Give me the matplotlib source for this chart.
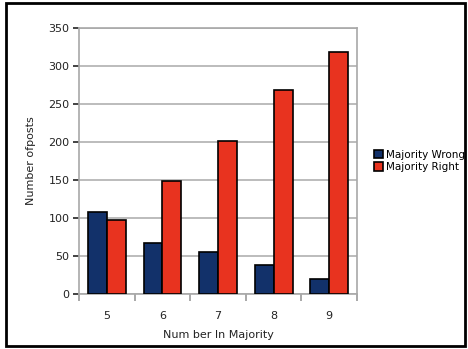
import matplotlib.pyplot as plt
import numpy as np
from matplotlib.patches import Rectangle

categories = ["5", "6", "7", "8", "9"]
majority_wrong = [108, 67, 55, 38, 19]
majority_right = [97, 149, 201, 268, 318]

fig = plt.figure(figsize=(4.68, 3.49), dpi=100)
ax = fig.add_axes([0.169, 0.158, 0.594, 0.762])

x = np.arange(len(categories))
w = 0.34
ax.bar(x - w/2, majority_wrong, w, color="#12316a", edgecolor="black",
       linewidth=1.2, label="Majority Wrong", zorder=3)
ax.bar(x + w/2, majority_right, w, color="#e8331f", edgecolor="black",
       linewidth=1.2, label="Majority Right", zorder=3)

ax.set_xlim(-0.5, len(categories) - 0.5)
ax.set_ylim(0, 350)
ax.set_yticks(range(0, 351, 50))
ax.set_xticks(x)
ax.set_xticklabels(categories)
ax.set_xticks(np.arange(-0.5, len(categories), 1), minor=True)
ax.tick_params(axis="x", which="major", length=0, pad=12)
ax.tick_params(axis="x", which="minor", length=5, color="#999999", width=1.2)
ax.tick_params(axis="y", length=4, color="#999999", width=1.2, pad=3)
ax.tick_params(labelsize=8, colors="#222222")
ax.grid(axis="y", color="#b0b0b0", linewidth=1.2, zorder=0)
for s in ax.spines.values():
    s.set_color("#a8a8a8")
    s.set_linewidth(1.2)

ax.set_xlabel("Num ber In Majority", fontsize=8, color="#222222", labelpad=7)
ax.set_ylabel("Number ofposts", fontsize=8, color="#222222", labelpad=9)

ax.legend(loc="center left", bbox_to_anchor=(1.045, 0.5), frameon=False,
          fontsize=7.5, handlelength=0.9, handleheight=0.9, handletextpad=0.3,
          labelspacing=0.25, borderaxespad=0)

# outer frame
fig.patches.append(Rectangle((0.013, 0.008), 0.98, 0.984, transform=fig.transFigure,
                             fill=False, edgecolor="black", linewidth=2))

fig.savefig("out.png", dpi=100)
